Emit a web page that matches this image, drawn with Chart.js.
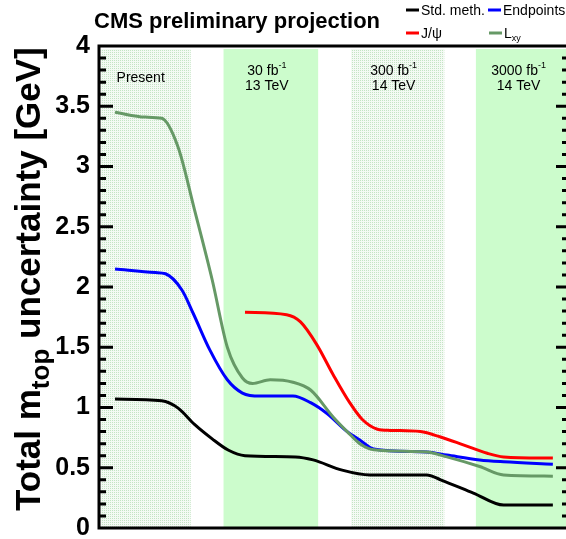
<!DOCTYPE html>
<html>
<head>
<meta charset="utf-8">
<script src="https://cdn.jsdelivr.net/npm/chart.js@4"></script>
<style>
  html, body { margin: 0; padding: 0; background: #fff; overflow: hidden; }
  #wrap { width: 570px; height: 539px; }
</style>
</head>
<body>
<div id="wrap"><canvas id="mtop" width="570" height="539"></canvas></div>
<script>
    // x is the stage index: 0 = Present, 1 = 30 fb-1, 2 = 300 fb-1, 3 = 3000 fb-1
    const stdX = [-0.23, 0.14, 0.27, 0.40, 0.54, 0.67, 0.80, 1.20, 1.34, 1.57, 1.79, 2.24, 2.35, 2.61, 2.85, 3.24];
    const stdY = [1.07, 1.056, 0.995, 0.86, 0.74, 0.645, 0.60, 0.59, 0.565, 0.48, 0.44, 0.44, 0.40, 0.29, 0.19, 0.19];

    const endX = [-0.23, 0.09, 0.17, 0.30, 0.39, 0.52, 0.66, 0.78, 0.92, 1.18, 1.32, 1.45, 1.61, 1.71, 1.82, 2.24, 2.40, 2.66, 2.85, 3.24];
    const endY = [2.15, 2.12, 2.11, 1.975, 1.78, 1.48, 1.23, 1.12, 1.095, 1.095, 1.04, 0.95, 0.80, 0.73, 0.655, 0.63, 0.605, 0.565, 0.55, 0.53];

    const jpsiX = [0.80, 1.13, 1.24, 1.37, 1.50, 1.63, 1.73, 1.85, 1.95, 2.19, 2.35, 2.53, 2.72, 2.85, 3.24];
    const jpsiY = [1.79, 1.77, 1.71, 1.52, 1.27, 1.04, 0.90, 0.82, 0.81, 0.80, 0.755, 0.69, 0.62, 0.59, 0.58];

    const lxyX = [-0.23, 0.01, 0.14, 0.27, 0.40, 0.54, 0.66, 0.78, 0.86, 1.00, 1.18, 1.32, 1.50, 1.61, 1.71, 1.82, 2.24, 2.40, 2.66, 2.85, 3.24];
    const lxyY = [3.45, 3.41, 3.40, 3.16, 2.64, 2.06, 1.50, 1.245, 1.20, 1.23, 1.21, 1.145, 0.92, 0.80, 0.70, 0.65, 0.63, 0.59, 0.51, 0.44, 0.43];

    // luminosity bands
    const bandLo = [-0.36, 0.63, 1.64, 2.63];
    const bandHi = [0.37, 1.38, 2.38, 3.40];
    const bandLine1 = ['Present', '30 fb', '300 fb', '3000 fb'];
    const bandSup = ['', '-1', '-1', '-1'];
    const bandLine2 = ['', '13 TeV', '14 TeV', '14 TeV'];
    const bandDotted = [true, false, true, false];

    const yTicks = [0, 0.5, 1, 1.5, 2, 2.5, 3, 3.5, 4];

    const FONT = "'Liberation Sans', Arial, Helvetica, sans-serif";

    function pts(xs, ys) {
        return xs.map((x, i) => ({ x: x, y: ys[i] }));
    }

    // 点状填充（模拟 ROOT 的点阵填充）
    function dotPattern(ctx) {
        const c = document.createElement('canvas');
        c.width = 2; c.height = 2;
        const p = c.getContext('2d');
        p.fillStyle = 'rgb(244,250,244)';
        p.fillRect(0, 0, 2, 2);
        p.fillStyle = 'rgb(196,228,196)';
        p.fillRect(0, 0, 1, 1);
        return ctx.createPattern(c, 'repeat');
    }

    // 画带上下标的文字，parts: [{t, size, dy}]
    function drawParts(ctx, parts, x, y, align) {
        let w = 0;
        parts.forEach(p => {
            ctx.font = (p.bold ? 'bold ' : '') + p.size + 'px ' + FONT;
            w += ctx.measureText(p.t).width;
        });
        let cx = align === 'center' ? x - w / 2 : x;
        parts.forEach(p => {
            ctx.font = (p.bold ? 'bold ' : '') + p.size + 'px ' + FONT;
            ctx.fillText(p.t, cx, y + (p.dy || 0));
            cx += ctx.measureText(p.t).width;
        });
        return w;
    }

    const decorPlugin = {
        id: 'decor',
        beforeDatasetsDraw(chart) {
            const { ctx, chartArea: a, scales: { x } } = chart;
            ctx.save();
            const pat = dotPattern(ctx);
            for (let i = 0; i < bandLo.length; i++) {
                const x0 = Math.max(a.left + 1.5, x.getPixelForValue(bandLo[i]));
                const x1 = Math.min(a.right, x.getPixelForValue(bandHi[i]));
                ctx.fillStyle = bandDotted[i] ? pat : '#ccfccc';
                ctx.fillRect(x0, a.top + 3, x1 - x0, a.bottom - a.top - 4);
            }
            ctx.fillStyle = '#000';
            ctx.textBaseline = 'alphabetic';
            for (let i = 0; i < bandLo.length; i++) {
                const cx = x.getPixelForValue((bandLo[i] + Math.min(bandHi[i], 3.37)) / 2) - 4;
                if (!bandLine2[i]) {
                    drawParts(ctx, [{ t: bandLine1[i], size: 14 }], cx, 82, 'center');
                } else {
                    drawParts(ctx, [{ t: bandLine1[i], size: 14 }, { t: bandSup[i], size: 9, dy: -7 }], cx, 75, 'center');
                    drawParts(ctx, [{ t: bandLine2[i], size: 14 }], cx, 90, 'center');
                }
            }
            ctx.restore();
        },
        afterDatasetsDraw(chart) {
            const { ctx, chartArea: a, scales: { y } } = chart;
            ctx.save();
            ctx.strokeStyle = '#000';
            ctx.lineWidth = 3;
            ctx.beginPath();
            ctx.moveTo(a.left, a.bottom);
            ctx.lineTo(a.left, a.top);
            ctx.lineTo(a.right, a.top);
            ctx.lineTo(a.right, a.bottom);
            ctx.closePath();
            ctx.stroke();

            // 主刻度 0.5，次刻度 0.1
            ctx.lineWidth = 3;
            ctx.beginPath();
            for (let k = 1; k < 40; k++) {
                const py = y.getPixelForValue(k / 10);
                const major = k % 5 === 0;
                ctx.moveTo(a.left, py);
                ctx.lineTo(a.left + (major ? 14 : 7), py);
                ctx.moveTo(a.right, py);
                ctx.lineTo(a.right - (major ? 12 : 6), py);
            }
            ctx.stroke();

            ctx.fillStyle = '#000';
            ctx.textBaseline = 'alphabetic';
            ctx.textAlign = 'left';

            // title
            drawParts(ctx, [{ t: 'CMS preliminary projection', size: 22, bold: true }], 94, 28, 'left');

            // legend
            const leg = [
                { c: '#000000', x: 406, y: 10, parts: [{ t: 'Std. meth.', size: 14 }] },
                { c: '#0000ff', x: 488, y: 10, parts: [{ t: 'Endpoints', size: 14 }] },
                { c: '#ff0000', x: 406, y: 33, parts: [{ t: 'J/\u03c8', size: 14 }] },
                { c: '#669966', x: 489, y: 33, parts: [{ t: 'L', size: 14 }, { t: 'xy', size: 9, dy: 3 }] }
            ];
            leg.forEach(l => {
                ctx.strokeStyle = l.c;
                ctx.lineWidth = 3;
                ctx.beginPath();
                ctx.moveTo(l.x, l.y);
                ctx.lineTo(l.x + 13, l.y);
                ctx.stroke();
                drawParts(ctx, l.parts, l.x + 15, l.y + 5, 'left');
            });

            // y axis title
            ctx.translate(40, 511);
            ctx.rotate(-Math.PI / 2);
            drawParts(ctx, [
                { t: 'Total m', size: 35, bold: true },
                { t: 'top', size: 26, bold: true, dy: 9 },
                { t: ' uncertainty [GeV]', size: 35, bold: true }
            ], 0, 0, 'left');
            ctx.restore();
        }
    };

    const lineStyle = {
        borderWidth: 3,
        pointRadius: 0,
        fill: false,
        cubicInterpolationMode: 'monotone'
    };

    new Chart(document.getElementById('mtop'), {
        type: 'line',
        data: {
            datasets: [
                Object.assign({ label: 'Std. meth.', data: pts(stdX, stdY), borderColor: '#000000', order: 3 }, lineStyle),
                Object.assign({ label: 'Endpoints', data: pts(endX, endY), borderColor: '#0000ff', order: 2 }, lineStyle),
                Object.assign({ label: 'J/\u03c8', data: pts(jpsiX, jpsiY), borderColor: '#ff0000', order: 1 }, lineStyle),
                Object.assign({ label: 'Lxy', data: pts(lxyX, lxyY), borderColor: '#669966', order: 0 }, lineStyle)
            ]
        },
        options: {
            responsive: false,
            animation: false,
            devicePixelRatio: 1,
            layout: { padding: { top: 46, bottom: 11, left: 0, right: 2 } },
            plugins: {
                legend: { display: false },
                tooltip: { enabled: false },
                title: { display: false }
            },
            scales: {
                x: { type: 'linear', min: -0.357, max: 3.36, display: false },
                y: {
                    min: 0,
                    max: 4,
                    position: 'left',
                    grid: { display: false, drawTicks: false },
                    border: { display: false },
                    afterBuildTicks: s => { s.ticks = yTicks.map(v => ({ value: v })); },
                    afterFit: s => { s.width = 99; s.paddingTop = 0; s.paddingBottom = 0; },
                    ticks: {
                        padding: 9,
                        color: '#000',
                        font: { family: FONT, size: 25, weight: 'bold' },
                        callback: v => String(v)
                    }
                }
            }
        },
        plugins: [decorPlugin]
    });
</script>
</body>
</html>
